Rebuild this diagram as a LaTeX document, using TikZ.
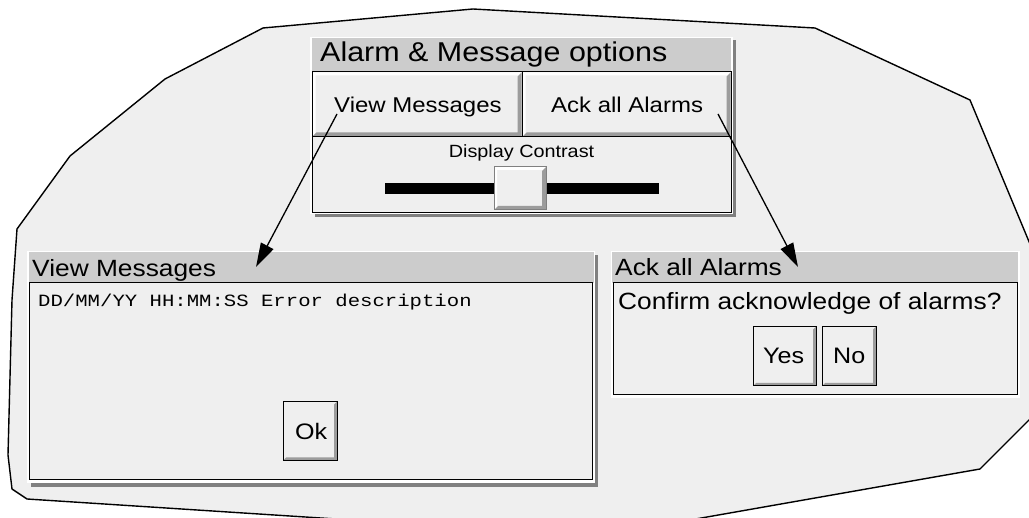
\documentclass[tikz,border=0pt]{standalone}
\usepackage{fontspec}
\usetikzlibrary{arrows.meta}
\newfontfamily\uif[FakeStretch=1.12]{Liberation Sans}
\newfontfamily\monof[FakeStretch=1.2]{Liberation Mono}
\definecolor{panelbg}{HTML}{EFEFEF}
\definecolor{titlegray}{HTML}{CCCCCC}
\definecolor{shadowgray}{HTML}{808080}
\definecolor{bevelgray}{HTML}{9C9C9C}
\newcommand\bevelbox[4]{%
  \fill[panelbg] (#1,#2) rectangle (#3,#4);
  \fill[white] (#1,#2) -- (#3,#2) -- ({#3-3},{#2+3}) -- ({#1+3},{#2+3}) -- ({#1+3},{#4-3}) -- (#1,#4) -- cycle;
  \fill[bevelgray] (#3,#2) -- (#3,#4) -- (#1,#4) -- ({#1+4},{#4-4}) -- ({#3-4},{#4-4}) -- ({#3-4},{#2+4}) -- cycle;
}
\newcommand\pushbtn[4]{%
  \fill[panelbg] (#1,#2) rectangle (#3,#4);
  \fill[bevelgray] (#3,#2) -- (#3,#4) -- (#1,#4) -- ({#1+3},{#4-3}) -- ({#3-3},{#4-3}) -- ({#3-3},{#2+3}) -- cycle;
  \draw[line width=1pt] (#1,#2) rectangle (#3,#4);
}
\begin{document}
\begin{tikzpicture}[x=1pt,y=-1pt,
  txt/.style={anchor=base west, inner sep=0pt},
  outline/.style={draw=black, line width=1.4pt, fill=panelbg, line join=round},
  border/.style={draw=black, line width=1pt},
  conn/.style={line width=1.3pt, -{Triangle[length=24pt,width=14pt]}},
  fTitle/.style={font={\uif\fontsize{27.2}{31}\selectfont}},
  fBtn/.style={font={\uif\fontsize{21.4}{25}\selectfont}},
  fPanel/.style={font={\uif\fontsize{23.5}{27}\selectfont}},
  fSmall/.style={font={\uif\fontsize{17.7}{21}\selectfont}},
  fMono/.style={font={\monof\fontsize{17.2}{20}\selectfont}},
  fKey/.style={font={\uif\fontsize{22.4}{26}\selectfont}}]
\useasboundingbox (0,0) rectangle (1029,518);
\fill[white] (0,0) rectangle (1029,518);
% outline
\begin{scope}
\clip (0,0) rectangle (1029,518);
\draw[outline] (263,28) -- (473,9) -- (815,28) -- (970,100) -- (1060,316) -- (1060,389)
  -- (980,469) -- (599,536) -- (27,499) -- (12,489) -- (8,455) -- (12,300) -- (17,229)
  -- (70,156) -- (165,79) -- cycle;
\end{scope}
% ---------- top panel ----------
\fill[shadowgray] (315,40) rectangle (736,217);
\fill[white] (310,37) rectangle (732.5,214);
\fill[titlegray] (312,38.5) rectangle (731,72);
\fill[panelbg] (312,72) rectangle (731,213);
\bevelbox{312.5}{72.5}{521.5}{136.5}
\bevelbox{522.5}{72.5}{730.5}{136.5}
\draw[border] (312,72) -- (731,72) -- (731,213) -- (312,213) -- cycle;
\draw[border] (522,72) -- (522,137);
\draw[border] (312,137) -- (731,137);
\node[txt, fTitle] (ttl) at (320,62) {Alarm \& Message options};
\node[txt, fBtn] (bvm) at (334,112.3) {View Messages};
\node[txt, fBtn] (bak) at (551,112.3) {Ack all Alarms};
\node[anchor=base, inner sep=0pt, fSmall] (dc) at (521.5,158) {Display Contrast};
\fill[black] (385,183) rectangle (659,194);
\bevelbox{494}{167}{546}{210}
\draw[draw=shadowgray, line width=1pt] (494,167) rectangle (546,210);
% ---------- lower-left panel ----------
\fill[shadowgray] (31,255) rectangle (598,487);
\fill[white] (27,251) rectangle (595,483);
\fill[titlegray] (28.5,252.5) rectangle (593.5,283);
\fill[panelbg] (29.5,283) rectangle (592.5,480);
\draw[border] (29.5,283) rectangle (592.5,480);
\node[txt, fPanel] (pvm) at (32,276.3) {View Messages};
\node[txt, fMono] (msg) at (38,306.3) {DD/MM/YY HH:MM:SS Error description};
\pushbtn{283}{401.5}{337}{460.5}
\node[txt, fKey] (ok) at (295,439.7) {Ok};
% ---------- right panel ----------
\fill[white] (610.5,251.5) rectangle (1019.5,398);
\fill[titlegray] (612,252.5) rectangle (1018,283);
\fill[panelbg] (613,283) rectangle (1017,395);
\draw[border] (613,283) rectangle (1017,395);
\node[txt, fPanel] (pak) at (615,276) {Ack all Alarms};
\node[txt, fPanel] (cnf) at (618,310) {Confirm acknowledge of alarms?};
\pushbtn{753}{326.5}{816}{386}
\pushbtn{822}{326.5}{876}{386}
\node[txt, fKey] (yes) at (763,364) {Yes};
\node[txt, fKey] (no) at (833,364) {No};
% ---------- connectors ----------
\coordinate (a1s) at (337,114);
\coordinate (a1e) at (256,267);
\coordinate (a2s) at (718,114);
\coordinate (a2e) at (798,267);
\draw[conn] (a1s) -- (a1e);
\draw[conn] (a2s) -- (a2e);
\end{tikzpicture}
\end{document}
